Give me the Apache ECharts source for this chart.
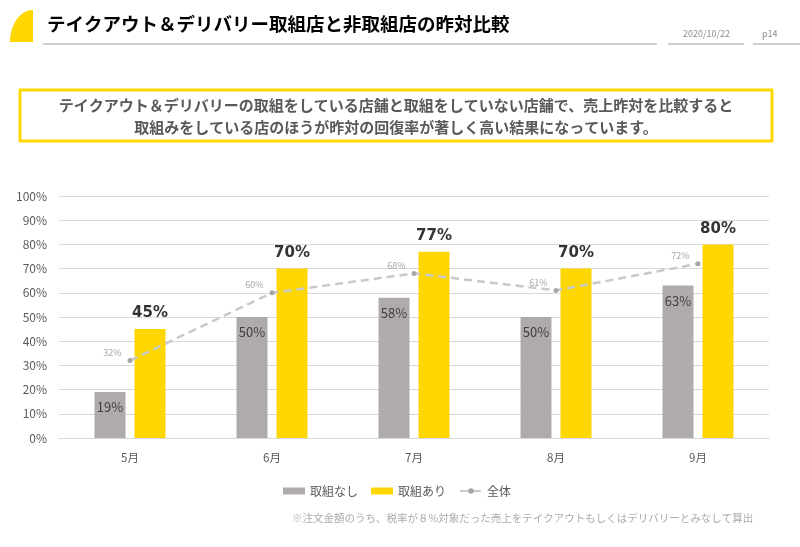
<!DOCTYPE html>
<html><head><meta charset="utf-8">
<script src="https://cdn.jsdelivr.net/npm/echarts@6/dist/echarts.min.js"></script>
<style>html,body{margin:0;padding:0;background:#fff}#c{width:800px;height:547px}</style>
</head><body><div id="c"></div>
<script>
const categories = ['5月','6月','7月','8月','9月'];
const withoutValues = [19, 50, 58, 50, 63];
const withValues = [45, 70, 77, 70, 80];
const overallValues = [32, 60, 68, 61, 72];
const seriesNames = ['取組なし','取組あり','全体'];
const yTicks = [0,10,20,30,40,50,60,70,80,90,100];

const FONT = '"Noto Sans CJK JP", "Noto Sans", sans-serif';

// decorative title marker: quarter-ellipse shape
const markPts = [[33, 42], [10, 42]];
for (let i = 0; i <= 24; i++) {
  const a = (Math.PI / 2) * (i / 24);
  markPts.push([33 - 23 * Math.cos(a), 42 - 32 * Math.sin(a)]);
}

const chart = echarts.init(document.getElementById('c'));
chart.setOption({
  animation: false,
  textStyle: { fontFamily: FONT },
  grid: { left: 59, right: 31, top: 196, bottom: 109 },
  legend: {
    left: 278, top: 480, itemWidth: 22, itemHeight: 7, itemGap: 13,
    textStyle: { color: '#595959', fontSize: 12, fontFamily: FONT },
    data: [
      { name: seriesNames[0], icon: 'rect' },
      { name: seriesNames[1], icon: 'rect' },
      { name: seriesNames[2] }
    ]
  },
  xAxis: {
    type: 'category', data: categories,
    axisLine: { lineStyle: { color: '#d9d9d9' } },
    axisTick: { show: false },
    axisLabel: { color: '#595959', fontSize: 11.5, margin: 14 }
  },
  yAxis: {
    type: 'value', min: 0, max: 100, interval: 10,
    axisLabel: { color: '#595959', fontSize: 12, margin: 12, formatter: v => yTicks.includes(v) ? v + '%' : '' },
    splitLine: { lineStyle: { color: '#d9d9d9' } },
    axisLine: { show: false }, axisTick: { show: false }
  },
  series: [
    {
      name: seriesNames[0], type: 'bar', data: withoutValues,
      barWidth: 31, barGap: '29%',
      itemStyle: { color: '#AFABAB' },
      label: { show: true, position: 'insideTop', distance: 9, color: '#404040', fontSize: 13, formatter: p => p.value + '%' }
    },
    {
      name: seriesNames[1], type: 'bar', data: withValues,
      barWidth: 31,
      itemStyle: { color: '#FFD700' },
      label: { show: true, position: 'top', distance: 8, color: '#333', fontSize: 15, fontWeight: 'bold', fontFamily: 'Verdana, "DejaVu Sans", sans-serif', formatter: p => p.value + '%' }
    },
    {
      name: seriesNames[2], type: 'line', data: overallValues, z: 5,
      symbol: 'circle', symbolSize: 5,
      lineStyle: { color: '#C9C9C9', width: 2.5, type: [8, 5] },
      itemStyle: { color: '#A6A6A6' },
      label: { show: true, position: 'left', distance: 5, offset: [-1, -8], color: '#A6A6A6', fontSize: 9, formatter: p => p.value + '%' }
    }
  ],
  graphic: [
    { type: 'polygon', shape: { points: markPts }, style: { fill: '#FFD700' } },
    { type: 'text', left: 47, top: 15, style: { text: 'テイクアウト＆デリバリー取組店と非取組店の昨対比較', font: 'bold 18.5px ' + FONT, fill: '#000' } },
    { type: 'rect', shape: { x: 43, y: 43, width: 614, height: 2 }, style: { fill: '#D0D0D0' } },
    { type: 'rect', shape: { x: 668, y: 43, width: 76, height: 2 }, style: { fill: '#D0D0D0' } },
    { type: 'rect', shape: { x: 753, y: 43, width: 47, height: 2 }, style: { fill: '#D0D0D0' } },
    { type: 'text', left: 683, top: 29, style: { text: '2020/10/22', font: '9px ' + FONT, fill: '#8c8c8c' } },
    { type: 'text', left: 762, top: 29, style: { text: 'p14', font: '9px ' + FONT, fill: '#8c8c8c' } },
    { type: 'rect', shape: { x: 20, y: 90, width: 752, height: 51 }, style: { fill: 'none', stroke: '#FFD700', lineWidth: 3 } },
    { type: 'text', x: 396, y: 105, style: { text: 'テイクアウト＆デリバリーの取組をしている店舗と取組をしていない店舗で、売上昨対を比較すると', font: 'bold 15px ' + FONT, fill: '#595959', align: 'center', verticalAlign: 'middle' } },
    { type: 'text', x: 396, y: 127, style: { text: '取組みをしている店のほうが昨対の回復率が著しく高い結果になっています。', font: 'bold 15px ' + FONT, fill: '#595959', align: 'center', verticalAlign: 'middle' } },
    { type: 'text', x: 292, y: 518, style: { text: '※注文金額のうち、税率が８%対象だった売上をテイクアウトもしくはデリバリーとみなして算出', font: '10.5px ' + FONT, fill: '#AAAAAA', verticalAlign: 'middle' } }
  ]
});
</script></body></html>
